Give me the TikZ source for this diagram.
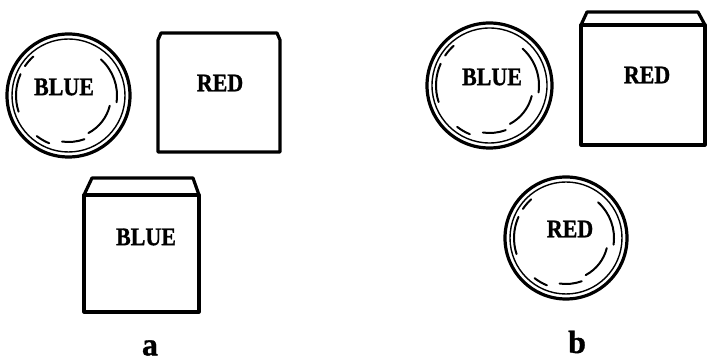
\documentclass[tikz,border=0pt]{standalone}
\usepackage{fontspec}
\setmainfont{Liberation Serif}
\newfontfamily\heavyfont[FakeBold=1.2]{Liberation Serif Bold}
\begin{document}
\begin{tikzpicture}[x=1pt,y=1pt,
  outline/.style={draw=black, line width=3.2pt, line join=round, line cap=round},
  ring/.style={draw=black, line width=1.4pt},
  arcline/.style={draw=black, line width=2pt, line cap=round},
  word/.style={font=\heavyfont\fontsize{22}{22}\selectfont, inner sep=0pt, transform shape, yscale=1.15},
  tag/.style={font=\heavyfont\fontsize{32}{32}\selectfont, inner sep=0pt}]
\useasboundingbox (0,0) rectangle (709,361);
\newcommand{\mylens}[4]{%
  \node[circle, outline, minimum size=#4*2pt, inner sep=0pt] (#1) at (#2,#3) {};
  \draw[ring] (#1.center) circle[radius=#4-5];
  \begin{scope}[shift={(#2,#3)}]
    \draw[arcline] (48:#4-13) arc[start angle=48, end angle=-8, radius=#4-13];
    \draw[arcline] (-14:#4-19) arc[start angle=-14, end angle=-62, radius=#4-19];
    \draw[arcline] (-70:#4-15) arc[start angle=-70, end angle=-98, radius=#4-15];
    \draw[arcline] (-112:#4-10) arc[start angle=-112, end angle=-128, radius=#4-10];
    \draw[arcline] (132:#4-9) arc[start angle=132, end angle=146, radius=#4-9];
    \draw[arcline] (156:#4-9) arc[start angle=156, end angle=198, radius=#4-9];
  \end{scope}}
% panel a
\mylens{ca}{68.5}{265.5}{61.5}
\node[word] (tca) at (64,274) {BLUE};
\draw[outline] (158,209) -- (158,321) -- (161,328) -- (277,328) -- (280,321) -- (280,209) -- cycle;
\node[word] (trba) at (220,278) {RED};
\draw[outline] (84,49) rectangle (199,166);
\draw[outline] (84,166) -- (92,183) -- (193,183) -- (199,166);
\node[word] (tbba) at (146,124) {BLUE};
\node[tag] (la) at (150,13) {a};
% panel b
\mylens{cb}{489.5}{275.5}{62.5}
\node[word] (tcb) at (492,284) {BLUE};
\draw[outline] (581,216) rectangle (705,336);
\draw[outline] (581,336) -- (587,349) -- (698,349) -- (705,336);
\node[word] (trbb) at (647,286) {RED};
\mylens{rcb}{566}{123}{61}
\node[word] (trcb) at (570,132) {RED};
\node[tag] (lb) at (577,19) {b};
\end{tikzpicture}
\end{document}
